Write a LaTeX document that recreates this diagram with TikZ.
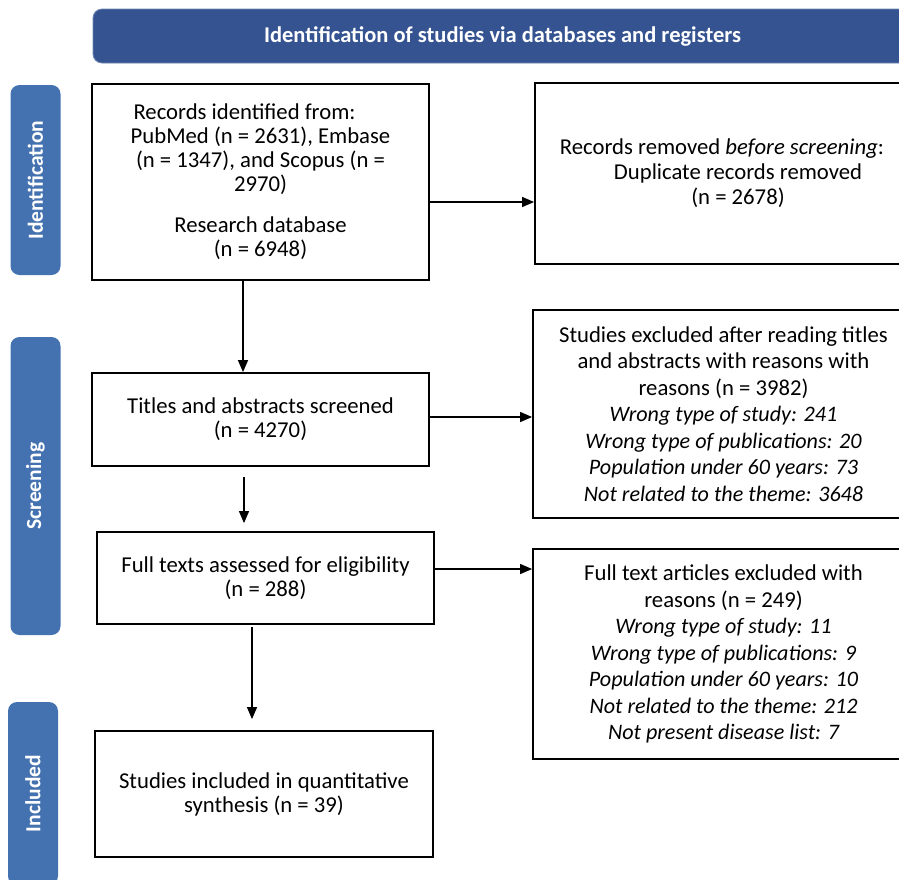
\documentclass[tikz,border=0pt]{standalone}
\usepackage{fontspec}
\setmainfont{Carlito}
\usetikzlibrary{arrows.meta}
\definecolor{hdrblue}{HTML}{355391}
\definecolor{sideblue}{HTML}{4472B0}
\newcommand{\itl}[1]{{\fontsize{22.1}{26.5}\selectfont\itshape #1}}
\begin{document}
\begin{tikzpicture}[x=1pt,y=-1pt,
  box/.style={draw=black, line width=1.8pt, align=center, inner sep=0pt, font=\fontsize{22.7}{24}\selectfont},
  exbox/.style={box, font=\fontsize{22.7}{26.5}\selectfont},
  hdr/.style={fill=hdrblue, draw=hdrblue!70!white, line width=0.8pt, rounded corners=9pt, text=white, font=\bfseries\fontsize{22.5}{24}\selectfont},
  side/.style={fill=sideblue, rounded corners=9pt, text=white, rotate=90, inner sep=0pt, font=\bfseries\fontsize{21.5}{24}\selectfont},
  arr/.style={-{Triangle[length=12pt,width=10pt]}, line width=1.3pt}
]
\useasboundingbox (0,0) rectangle (899,879);
\clip (0,0) rectangle (899,879);

% header
\node[hdr, minimum width=819, minimum height=54] (hdr) at (502.5,36) {Identification of studies via databases and registers};

% side labels
\node[side, minimum width=190, minimum height=50] (sid) at (35.5,180) {Identification};
\node[side, minimum width=298, minimum height=50] (sscr) at (35.5,486) {Screening};
\node[side, minimum width=183, minimum height=50] (sinc) at (33,793.5) {Included};

% boxes
\node[box, minimum width=337, minimum height=196] (b1) at (260.5,182)
  {\hspace*{-32pt}Records identified from:\\
   PubMed (n = 2631), Embase\\
   (n = 1347), and Scopus (n =\\
   2970)\\[17pt]
   Research database\\
   (n = 6948)};
\node[box, font=\fontsize{22.7}{25}\selectfont, minimum width=379, minimum height=181] (b2) at (724.5,173.5)
  {\hspace*{-5pt}Records removed \textit{before screening}:\\
   \hspace*{27pt}Duplicate records removed\\
   \hspace*{27pt}(n = 2678)};
\node[box, minimum width=337, minimum height=93] (b3) at (260.5,419.5)
  {Titles and abstracts screened\\(n = 4270)};
\node[exbox, minimum width=381, minimum height=208] (b4) at (723.5,414)
  {Studies excluded after reading titles\\
   and abstracts with reasons with\\
   reasons (n = 3982)\\
   \itl{Wrong type of study: 241}\\
   \itl{Wrong type of publications: 20}\\
   \itl{Population under 60 years: 73}\\
   \itl{Not related to the theme: 3648}};
\node[box, minimum width=337, minimum height=92] (b5) at (265.5,578)
  {Full texts assessed for eligibility\\(n = 288)};
\node[exbox, minimum width=381, minimum height=210] (b6) at (723.5,654)
  {Full text articles excluded with\\
   reasons (n = 249)\\
   \itl{Wrong type of study: 11}\\
   \itl{Wrong type of publications: 9}\\
   \itl{Population under 60 years: 10}\\
   \itl{Not related to the theme: 212}\\
   \itl{Not present disease list: 7}};
\node[box, minimum width=338, minimum height=126] (b7) at (264,794)
  {Studies included in quantitative\\synthesis (n = 39)};

% connectors
\draw[arr] (b1.east |- 0,202) -- (b2.west |- 0,202);
\draw[arr] (b3.east |- 0,417) -- (b4.west |- 0,417);
\draw[arr] (b5.east |- 0,569) -- (b6.west |- 0,569);
\draw[arr] (b1.south -| 243,0) -- (b3.north -| 243,0);
\draw[arr, shorten <=10pt, shorten >=8pt] (b3.south -| 244,0) -- (b5.north -| 244,0);
\draw[arr, shorten <=2pt, shorten >=11pt] (b5.south -| 252,0) -- (b7.north -| 252,0);
\end{tikzpicture}
\end{document}
